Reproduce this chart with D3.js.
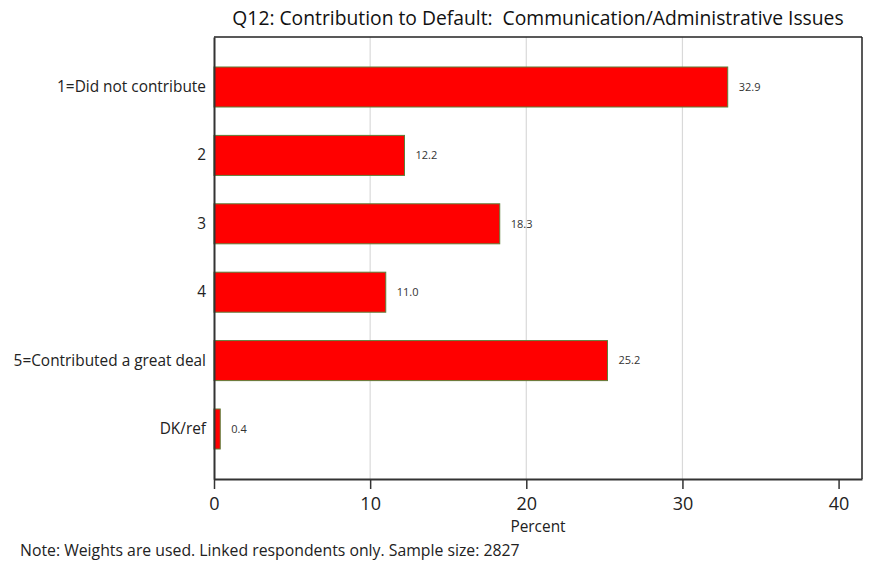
<!DOCTYPE html>
<html>
<head>
<meta charset="utf-8">
<script src="https://cdn.jsdelivr.net/npm/d3@7"></script>
<style>
  html, body { margin: 0; padding: 0; background: #fff; }
  svg { display: block; }
  text { font-family: "Open Sans", "Noto Sans", sans-serif; }
</style>
</head>
<body>
<svg id="chart" width="883" height="565"></svg>
<script>
const categories = ["1=Did not contribute", "2", "3", "4", "5=Contributed a great deal", "DK/ref"];
const values = [32.9, 12.2, 18.3, 11.0, 25.2, 0.4];
const xTicks = [0, 10, 20, 30, 40];
const gridTicks = [10, 20, 30];
const titleText = "Q12: Contribution to Default:  Communication/Administrative Issues";
const xLabel = "Percent";
const noteText = "Note: Weights are used. Linked respondents only. Sample size: 2827";

const svg = d3.select("#chart");
const m = { left: 214, right: 862, top: 37, bottom: 479 };

const x = d3.scaleLinear().domain([0, 41.5]).range([m.left, m.right]);
const y = d3.scaleBand().domain(categories).range([m.top, m.bottom])
  .paddingInner(0.415).paddingOuter(0.4385);

// gridlines
svg.append("g").selectAll("line").data(gridTicks).join("line")
  .attr("x1", d => x(d)).attr("x2", d => x(d))
  .attr("y1", m.top).attr("y2", m.bottom)
  .attr("stroke", "#d9d9d9").attr("stroke-width", 1.2);

// border top/right
svg.append("line").attr("x1", m.left).attr("x2", m.right).attr("y1", m.top).attr("y2", m.top)
  .attr("stroke", "#222").attr("stroke-width", 1.5);
svg.append("line").attr("x1", m.right).attr("x2", m.right).attr("y1", m.top).attr("y2", m.bottom)
  .attr("stroke", "#222").attr("stroke-width", 1.5);

// bars
svg.append("g").selectAll("rect").data(values).join("rect")
  .attr("x", x(0))
  .attr("y", (d, i) => y(categories[i]))
  .attr("width", d => x(d) - x(0))
  .attr("height", y.bandwidth())
  .attr("fill", "#ff0000")
  .attr("stroke", "#5f7f3a")
  .attr("stroke-width", 1);

// value labels
svg.append("g").selectAll("text").data(values).join("text")
  .attr("x", d => x(d) + 11)
  .attr("y", (d, i) => y(categories[i]) + y.bandwidth() / 2)
  .attr("dy", "0.35em")
  .attr("font-size", 11)
  .attr("fill", "#333")
  .text(d => d.toFixed(1));

// x axis
const xAxis = d3.axisBottom(x).tickValues(xTicks).tickSize(10).tickSizeOuter(0).tickPadding(8);
const gx = svg.append("g").attr("transform", `translate(0,${m.bottom})`).call(xAxis);
gx.select(".domain").attr("stroke", "#333").attr("stroke-width", 2);
gx.selectAll(".tick line").attr("stroke", "#333").attr("stroke-width", 1.5);
gx.selectAll(".tick text").attr("font-size", 18).attr("fill", "#222")
  .style("font-family", "'Open Sans', sans-serif");

// y axis
const yAxis = d3.axisLeft(y).tickSize(0).tickPadding(8);
const gy = svg.append("g").attr("transform", `translate(${m.left},0)`).call(yAxis);
gy.select(".domain").attr("stroke", "#333").attr("stroke-width", 2);
gy.selectAll(".tick text").attr("font-size", 15.4).attr("fill", "#222")
  .style("font-family", "'Open Sans', sans-serif");

// title
svg.append("text").attr("x", 538).attr("y", 25).attr("text-anchor", "middle")
  .style("white-space", "pre")
  .attr("font-size", 19.3).attr("fill", "#111").text(titleText);

// x label
svg.append("text").attr("x", 538).attr("y", 532).attr("text-anchor", "middle")
  .attr("font-size", 15.4).attr("fill", "#222").text(xLabel);

// note
svg.append("text").attr("x", 20).attr("y", 556)
  .attr("font-size", 15.8).attr("fill", "#222").text(noteText);
</script>
</body>
</html>
